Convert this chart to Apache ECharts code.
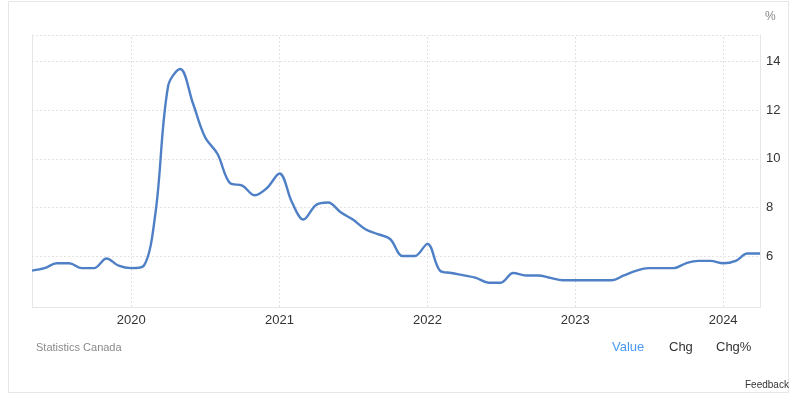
<!DOCTYPE html>
<html>
<head>
<meta charset="utf-8">
<script src="https://cdn.jsdelivr.net/npm/echarts@6/dist/echarts.min.js"></script>
<style>
html,body{margin:0;padding:0;background:#fff;}
#chart{width:800px;height:395px;}
</style>
</head>
<body>
<div id="chart"></div>
<script>
// Canada unemployment rate (%), monthly, May 2019 – Apr 2024
const months = [
  '2019-05','2019-06','2019-07','2019-08','2019-09','2019-10','2019-11','2019-12',
  '2020-01','2020-02','2020-03','2020-04','2020-05','2020-06','2020-07','2020-08','2020-09','2020-10','2020-11','2020-12',
  '2021-01','2021-02','2021-03','2021-04','2021-05','2021-06','2021-07','2021-08','2021-09','2021-10','2021-11','2021-12',
  '2022-01','2022-02','2022-03','2022-04','2022-05','2022-06','2022-07','2022-08','2022-09','2022-10','2022-11','2022-12',
  '2023-01','2023-02','2023-03','2023-04','2023-05','2023-06','2023-07','2023-08','2023-09','2023-10','2023-11','2023-12',
  '2024-01','2024-02','2024-03','2024-04'
];
const values = [
  5.4, 5.5, 5.7, 5.7, 5.5, 5.5, 5.9, 5.6,
  5.5, 5.6, 7.8, 13.0, 13.7, 12.3, 10.9, 10.2, 9.0, 8.9, 8.5, 8.8,
  9.4, 8.2, 7.5, 8.1, 8.2, 7.8, 7.5, 7.1, 6.9, 6.7, 6.0, 6.0,
  6.5, 5.4, 5.3, 5.2, 5.1, 4.9, 4.9, 5.3, 5.2, 5.2, 5.1, 5.0,
  5.0, 5.0, 5.0, 5.0, 5.2, 5.4, 5.5, 5.5, 5.5, 5.7, 5.8, 5.8,
  5.7, 5.8, 6.1, 6.1
];
const yTicks = [6, 8, 10, 12, 14];
const yearTicks = ['2020-01-01', '2021-01-01', '2022-01-01', '2023-01-01', '2024-01-01'];
const yearLabels = ['2020', '2021', '2022', '2023', '2024'];
const sourceText = 'Statistics Canada';
const unitText = '%';
const tabLabels = ['Value', 'Chg', 'Chg%'];

const xMin = '2019-05-01', xMax = '2024-04-01';
const yMin = 3.9, yMax = 15.1;

const toTs = s => new Date(s + 'T00:00:00Z').getTime();
const seriesData = months.map((m, i) => [toTs(m + '-01'), values[i]]);
const yearTs = yearTicks.map(toTs);

const chart = echarts.init(document.getElementById('chart'), null, {renderer: 'canvas'});
const gridStyle = {color: '#e3e3e3', width: 1, type: [2, 2]};

const option = {
  animation: false,
  backgroundColor: '#fff',
  grid: {left: 32, right: 40, top: 35, bottom: 88, containLabel: false},
  xAxis: {
    type: 'value',
    min: toTs(xMin), max: toTs(xMax),
    axisLine: {show: true, lineStyle: {color: '#e6e6e6', width: 1}},
    axisTick: {show: false},
    splitLine: {show: false},
    axisLabel: {
      customValues: yearTs,
      formatter: v => { const i = yearTs.indexOf(v); return i >= 0 ? yearLabels[i] : String(new Date(v).getUTCFullYear()); },
      color: '#333', fontSize: 13, fontFamily: 'Liberation Sans, Arial, sans-serif', margin: 7
    }
  },
  yAxis: [{
    type: 'value', position: 'right', min: yMin, max: yMax,
    axisLine: {show: true, lineStyle: {color: '#e6e6e6', width: 1}},
    axisTick: {show: false},
    splitLine: {show: false},
    axisLabel: {
      customValues: yTicks,
      formatter: v => String(v),
      color: '#333', fontSize: 13, fontFamily: 'Liberation Sans, Arial, sans-serif', margin: 6
    }
  }, {
    type: 'value', position: 'left', min: yMin, max: yMax,
    axisLine: {show: true, lineStyle: {color: '#e6e6e6', width: 1}},
    axisTick: {show: false}, axisLabel: {show: false}, splitLine: {show: false}
  }],
  series: [{
    type: 'line',
    data: seriesData,
    smooth: 0.35,
    symbol: 'none',
    lineStyle: {color: '#4f80c6', width: 2.4},
    z: 5,
    markLine: {
      silent: true, symbol: 'none', animation: false,
      label: {show: false},
      lineStyle: gridStyle,
      z: 1,
      data: yTicks.concat([yMax]).map(v => ({yAxis: v, lineStyle: gridStyle}))
        .concat(yearTs.map(t => ({xAxis: t, lineStyle: gridStyle})))
    }
  }],
  graphic: [
    {type: 'rect', shape: {x: 8.5, y: 1.5, width: 780, height: 391}, style: {fill: 'none', stroke: '#e6e6e6', lineWidth: 1}, silent: true, z: -1},
    {type: 'text', left: 765, top: 11, style: {text: unitText, fill: '#888', font: '12px Liberation Sans, Arial, sans-serif'}},
    {type: 'text', left: 36, top: 342, style: {text: sourceText, fill: '#8a8a8a', font: '11px Liberation Sans, Arial, sans-serif'}},
    {type: 'text', left: 612, top: 341, style: {text: tabLabels[0], fill: '#4a9af5', font: '13px Liberation Sans, Arial, sans-serif'}},
    {type: 'text', left: 669, top: 341, style: {text: tabLabels[1], fill: '#333', font: '13px Liberation Sans, Arial, sans-serif'}},
    {type: 'text', left: 716, top: 341, style: {text: tabLabels[2], fill: '#333', font: '13px Liberation Sans, Arial, sans-serif'}},
    {type: 'text', left: 745, top: 380, style: {text: 'Feedback', fill: '#333', font: '10px Liberation Sans, Arial, sans-serif'}}
  ]
};
chart.setOption(option);
</script>
</body>
</html>
